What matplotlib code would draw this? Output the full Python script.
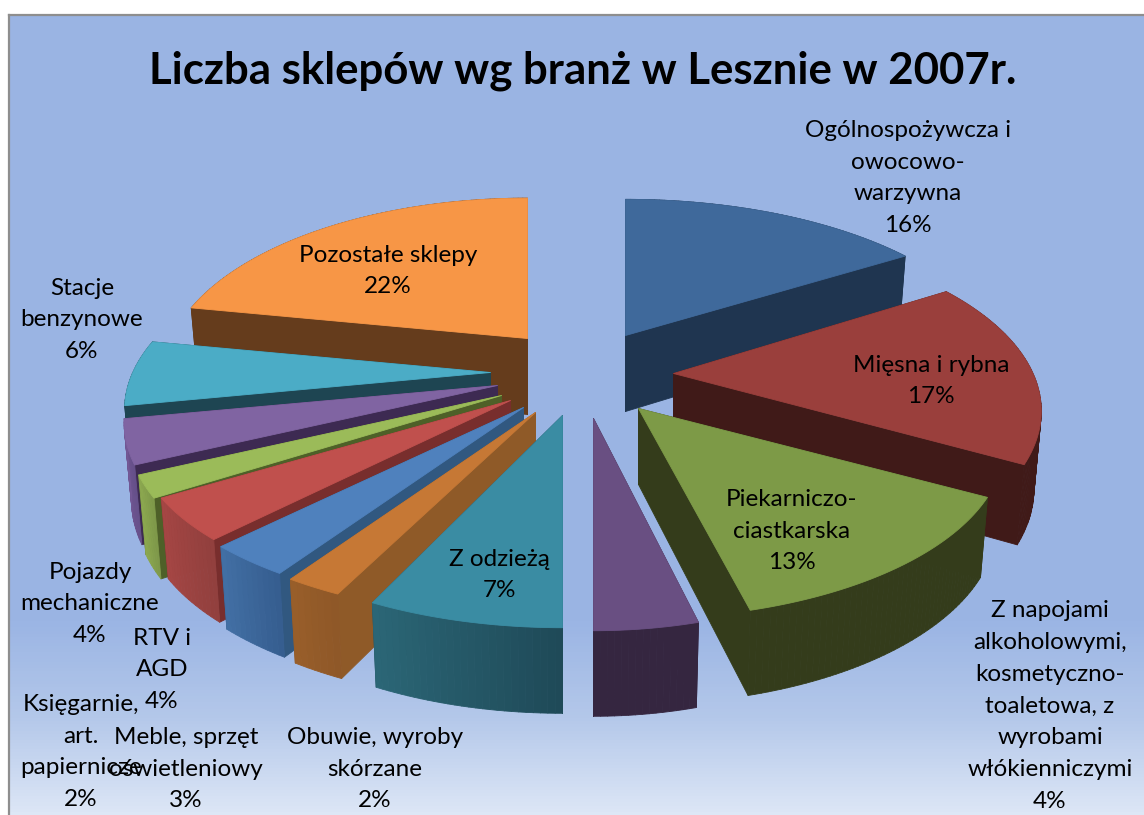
import numpy as np
import matplotlib
matplotlib.use("Agg")
import matplotlib.pyplot as plt
from matplotlib.colors import to_rgb, LinearSegmentedColormap
from matplotlib.collections import PolyCollection

TITLE = "Liczba sklepów wg branż w Lesznie w 2007r."
categories = [
    "Ogólnospożywcza i\nowocowo-\nwarzywna", "Mięsna i rybna", "Piekarniczo-\nciastkarska",
    "Z napojami\nalkoholowymi,\nkosmetyczno-\ntoaletowa, z\nwyrobami\nwłókienniczymi",
    "Z odzieżą", "Obuwie, wyroby\nskórzane", "Meble, sprzęt\noświetleniowy",
    "RTV i\nAGD", "Księgarnie,\nart.\npapiernicze", "Pojazdy\nmechaniczne",
    "Stacje\nbenzynowe", "Pozostałe sklepy",
]
values = [16, 17, 13, 4, 7, 2, 3, 4, 2, 4, 6, 22]

top_colors = ["#3F699B", "#9A3F3C", "#7D9A47", "#694F82", "#3A8CA3", "#C67835",
              "#4F81BD", "#C0504D", "#9BBB59", "#8064A2", "#4BACC6", "#F79646"]
cut_colors = ["#1F3550", "#401A18", "#343C1B", "#352640", "#214E5C", "#8F5A28",
              "#315880", "#782E2D", "#4E6028", "#3D2A52", "#1E4552", "#653C1C"]
rim_start = ["#1F3550", "#401A18", "#343C1B", "#352640", "#1F4A58", "#8F5828",
             "#365E90", "#92403E", "#7F994A", "#66508A", "#1E4552", "#653C1C"]
rim_end = ["#1F3550", "#401A18", "#343C1B", "#352640", "#2B6676", "#985E2A",
           "#426FA4", "#A54644", "#8CA850", "#735895", "#1E4552", "#653C1C"]

# apex of each exploded slice, as pixel offset from the pie centre
CENTER = (540, 395)
explode = [(85, -60), (133, -22), (98, 13), (53, 23), (22, 20), (-5, 17),
           (-17, 12), (-30, 5), (-39, 0), (-43, -10), (-50, -23), (-13, -57)]
x_scale = [1.01, 0.985, 0.98, 0.92, 0.99, 1.03, 1.025, 1.005, 1.0, 1.0, 0.98, 0.975]
y_scale = [0.97, 1.0, 0.975, 0.985, 0.985, 0.955, 0.95, 0.95, 1.0, 1.0, 1.0, 1.0]
draw_order = [11, 0, 1, 10, 9, 8, 7, 6, 5, 2, 3, 4]

RX, RY, PERSP, DEPTH, LEAN = 365, 170, 0.211, 76, 0.02

label_pos = [(908, 178), (931, 381), (792, 531), (1050, 706), (499, 575), (375, 769),
             (186, 769), (162, 670), (81, 752), (90, 604), (82, 320), (388, 271)]
LABEL_FONT = 17.5
LINE = 1.64

plt.rcParams["font.family"] = ["Lato", "DejaVu Sans"]
fig = plt.figure(figsize=(11.44, 8.15), dpi=100, facecolor="white")
ax = fig.add_axes([0, 0, 1, 1])
ax.axis("off")

# background
grad = LinearSegmentedColormap.from_list(
    "bg", [(0, "#9AB4E3"), (0.76, "#9BB5E4"), (0.88, "#B4C8EA"), (1, "#DDE7F6")])
g = np.linspace(0, 1, 256).reshape(-1, 1)
ax.imshow(g, cmap=grad, extent=(9, 1144, 815, 15), aspect="auto", zorder=0, vmin=0, vmax=1)
ax.set_xlim(0, 1144)
ax.set_ylim(815, 0)
ax.plot([9, 9], [815, 15], color="#8E8E8E", lw=1.6, zorder=1, solid_capstyle="projecting")
ax.plot([9, 1144], [15, 15], color="#8E8E8E", lw=1.6, zorder=1, solid_capstyle="projecting")


def project(i, theta, r, z, apex):
    x, y = r * np.sin(theta), r * np.cos(theta)
    w = 1 + PERSP * y
    sx = x_scale[i] * RX * x / w * (1 - LEAN * z)
    sy = -y_scale[i] * RY * y / w + z * DEPTH / np.sqrt(w)
    return apex[0] + sx, apex[1] + sy


def poly(pts, color, z):
    ax.add_collection(PolyCollection([pts], facecolors=color, edgecolors=color,
                                     linewidths=0.6, zorder=z))


edges = np.cumsum([0] + values) / sum(values) * 2 * np.pi
z = 2
for i in draw_order:
    a0, a1 = edges[i], edges[i + 1]
    apex = (CENTER[0] + explode[i][0], CENTER[1] + explode[i][1])
    ang = np.linspace(a0, a1, max(int(values[i] * 4), 8))
    top = [project(i, t, 1, 0, apex) for t in ang]
    # radial cut faces
    for a in (a1, a0):
        pts = [project(i, a, 0, 0, apex), project(i, a, 1, 0, apex),
               project(i, a, 1, 1, apex), project(i, a, 0, 1, apex)]
        poly(pts, cut_colors[i], z)
    # outer rim, shaded along the arc
    c0, c1 = np.array(to_rgb(rim_start[i])), np.array(to_rgb(rim_end[i]))
    for k in range(len(ang) - 1):
        f = k / max(len(ang) - 2, 1)
        pts = [project(i, ang[k], 1, 0, apex), project(i, ang[k + 1], 1, 0, apex),
               project(i, ang[k + 1], 1, 1, apex), project(i, ang[k], 1, 1, apex)]
        poly(pts, tuple(c0 + (c1 - c0) * f), z)
    # top face
    poly([project(i, 0, 0, 0, apex)] + top, top_colors[i], z + 0.5)
    z += 1

ax.text(583, 71, TITLE, ha="center", va="center", fontsize=31.5, fontweight="bold",
        color="black", zorder=50)
for name, val, (lx, ly) in zip(categories, values, label_pos):
    ax.text(lx, ly, f"{name}\n{val}%", ha="center", va="center", multialignment="center",
            fontsize=LABEL_FONT, linespacing=LINE, color="black", zorder=50)

fig.savefig("out.png", dpi=100, facecolor="white")
